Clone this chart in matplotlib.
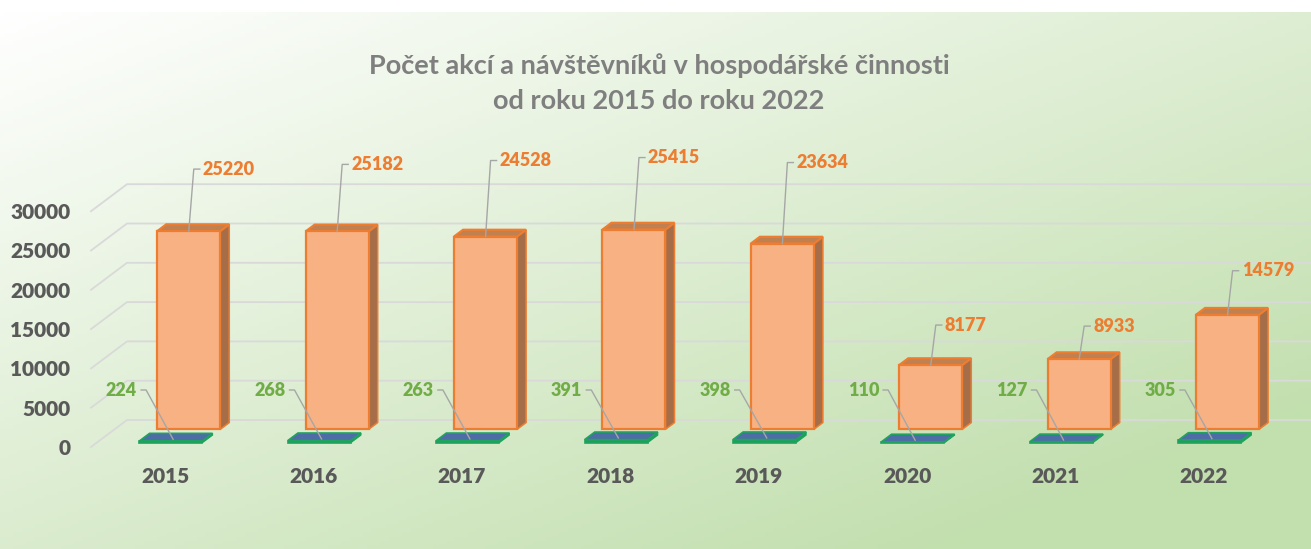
# -*- coding: utf-8 -*-
## Počet akcí a návštěvníků - 3D sloupcový graf (napodobení Excelu)
from matplotlib import pyplot as plt
from matplotlib.patches import Polygon
import numpy as np

plt.rcParams['font.family'] = ['Lato', 'DejaVu Sans']
plt.rcParams['font.weight'] = 'bold'

## data
years = ["2015", "2016", "2017", "2018", "2019", "2020", "2021", "2022"]
visitors = [25220, 25182, 24528, 25415, 23634, 8177, 8933, 14579]
events = [224, 268, 263, 391, 398, 110, 127, 305]
y_ticks = [0, 5000, 10000, 15000, 20000, 25000, 30000]
title = ["Počet akcí a návštěvníků v hospodářské činnosti",
         "od roku 2015 do roku 2022"]

## rozložení popisků návštěvníků (o kolik px nad horní hranou sloupce)
lift_px = [62, 67, 76, 72, 81, 40, 33, 44]

W, H = 1311, 549
fig = plt.figure(figsize=(W / 100, H / 100), dpi=100)

## pozadí s přechodem do zelena
bg = fig.add_axes([0, 0, 1, 1])
gx, gy = np.meshgrid(np.linspace(0, 1, 300), np.linspace(0, 1, 130))
t = np.clip(0.55 * gx + 0.6 * gy, 0, 1)[..., None]
c0 = np.array([1.0, 1.0, 1.0])
c1 = np.array([0xC2, 0xDF, 0xAE]) / 255
img = c0 * (1 - t) + c1 * t
bg.imshow(img, extent=[0, W, H, 12], aspect="auto")
bg.set_xlim(0, W)
bg.set_ylim(H, 0)
bg.axis("off")

## osa - měřítko: 148.4 px na kategorii, 0.00786 px na jednotku
px_cat, px_val = 148.4, 0.00786
x0_px, y0_px = 165.2, 447.0
top_px, bot_px = 120, 460
left_px = 91
ax = fig.add_axes([left_px / W, 1 - bot_px / H, (W - left_px) / W, (bot_px - top_px) / H])
ax.patch.set_alpha(0)
ax.set_xlim((left_px - x0_px) / px_cat, (W - x0_px) / px_cat)
ax.set_ylim((y0_px - bot_px) / px_val, (y0_px - top_px) / px_val)
for s in ax.spines.values():
    s.set_visible(False)

DX = 36 / px_cat   # posun do hloubky
DY = 27 / px_val

grey = "#595959"
ax.set_yticks(y_ticks)
ax.set_yticklabels([str(v) for v in y_ticks], fontweight="heavy")
ax.set_xticks(range(len(years)))
ax.set_xticklabels(years, fontweight="heavy")
ax.tick_params(axis="y", length=0, pad=15, labelsize=15, labelcolor=grey)
ax.tick_params(axis="x", length=0, pad=5, labelsize=15, labelcolor=grey)

## mřížka na boční a zadní stěně
n = len(years)
for v in y_ticks:
    ax.plot([-0.5, -0.5 + DX, n - 0.5 + DX + 0.1], [v, v + DY, v + DY],
            color="#D9D9D9", lw=1.3, clip_on=False, zorder=1)

bw = 63 / px_cat
x = np.arange(n)


def box(xc, z0, dz, h, front, top, side, edge, lw):
    xl = xc - bw / 2 + z0 * DX
    xr = xl + bw
    b = z0 * DY
    ax.bar(xl + bw / 2, h, bw, bottom=b, color=front, edgecolor=edge, lw=lw, zorder=3)
    ax.add_patch(Polygon([(xr, b), (xr, b + h), (xr + dz * DX, b + h + dz * DY),
                          (xr + dz * DX, b + dz * DY)], closed=True,
                         facecolor=side, edgecolor=edge, lw=lw * 0.7, zorder=2))
    ax.add_patch(Polygon([(xl, b + h), (xr, b + h), (xr + dz * DX, b + h + dz * DY),
                          (xl + dz * DX, b + h + dz * DY)], closed=True,
                         facecolor=top, edgecolor=edge, lw=lw, zorder=2))


## návštěvníci (zadní řada)
za, dza = 0.655, 0.25
for i in range(n):
    box(x[i], za, dza, visitors[i], "#F8B183", "#C1804F", "#A66E48", "#ED7D31", 1.6)

## akce (přední řada)
zb, dzb = 0.16, 0.28
for i in range(n):
    box(x[i], zb, dzb, events[i], "#1E9E5E", "#4E6CA6", "#1E9E5E", "#1FA35F", 1.2)

## popisky
line_col = "#A6A6A6"
to_data = ax.transData.inverted()
lab_y = (y0_px - 390) / px_val
for i in range(n):
    # návštěvníci - vodicí čára ve tvaru "Γ"
    bx = x[i] + za * DX
    by = za * DY + visitors[i]
    bp = ax.transData.transform((bx, by))
    p1 = to_data.transform((bp[0] + 5, bp[1] + lift_px[i]))
    p2 = to_data.transform((bp[0] + 11, bp[1] + lift_px[i]))
    ax.plot([bx, p1[0], p2[0]], [by, p1[1], p2[1]], color=line_col, lw=1,
            zorder=5, clip_on=False)
    ax.annotate(str(visitors[i]), xy=(bx, by), xytext=(14, lift_px[i]),
                textcoords="offset pixels", ha="left", va="center",
                fontsize=13, fontweight="heavy", color="#ED7D31", zorder=6)

    # akce
    ex = x[i] + 0.22 * DX
    ey = 0.22 * DY + events[i]
    ep = ax.transData.transform((ex, ey))
    lp = ax.transData.transform((ex, lab_y))
    q1 = to_data.transform((ep[0] - 27, lp[1]))
    q0 = to_data.transform((ep[0] - 32, lp[1]))
    ax.plot([q0[0], q1[0], ex], [q0[1], q1[1], ey], color=line_col, lw=1, zorder=7,
            clip_on=False)
    ax.annotate(str(events[i]), xy=(q0[0], q0[1]), xytext=(-4, 0),
                textcoords="offset pixels", ha="right", va="center",
                fontsize=13, fontweight="heavy", color="#70AD47", zorder=6)

## titulek
fig.text(659 / W, 1 - 66 / H, title[0], ha="center", va="center", fontsize=19.5,
         color="#7F7F7F")
fig.text(659 / W, 1 - 101 / H, title[1], ha="center", va="center", fontsize=19.5,
         color="#7F7F7F")

plt.savefig("out.png", dpi=100)
